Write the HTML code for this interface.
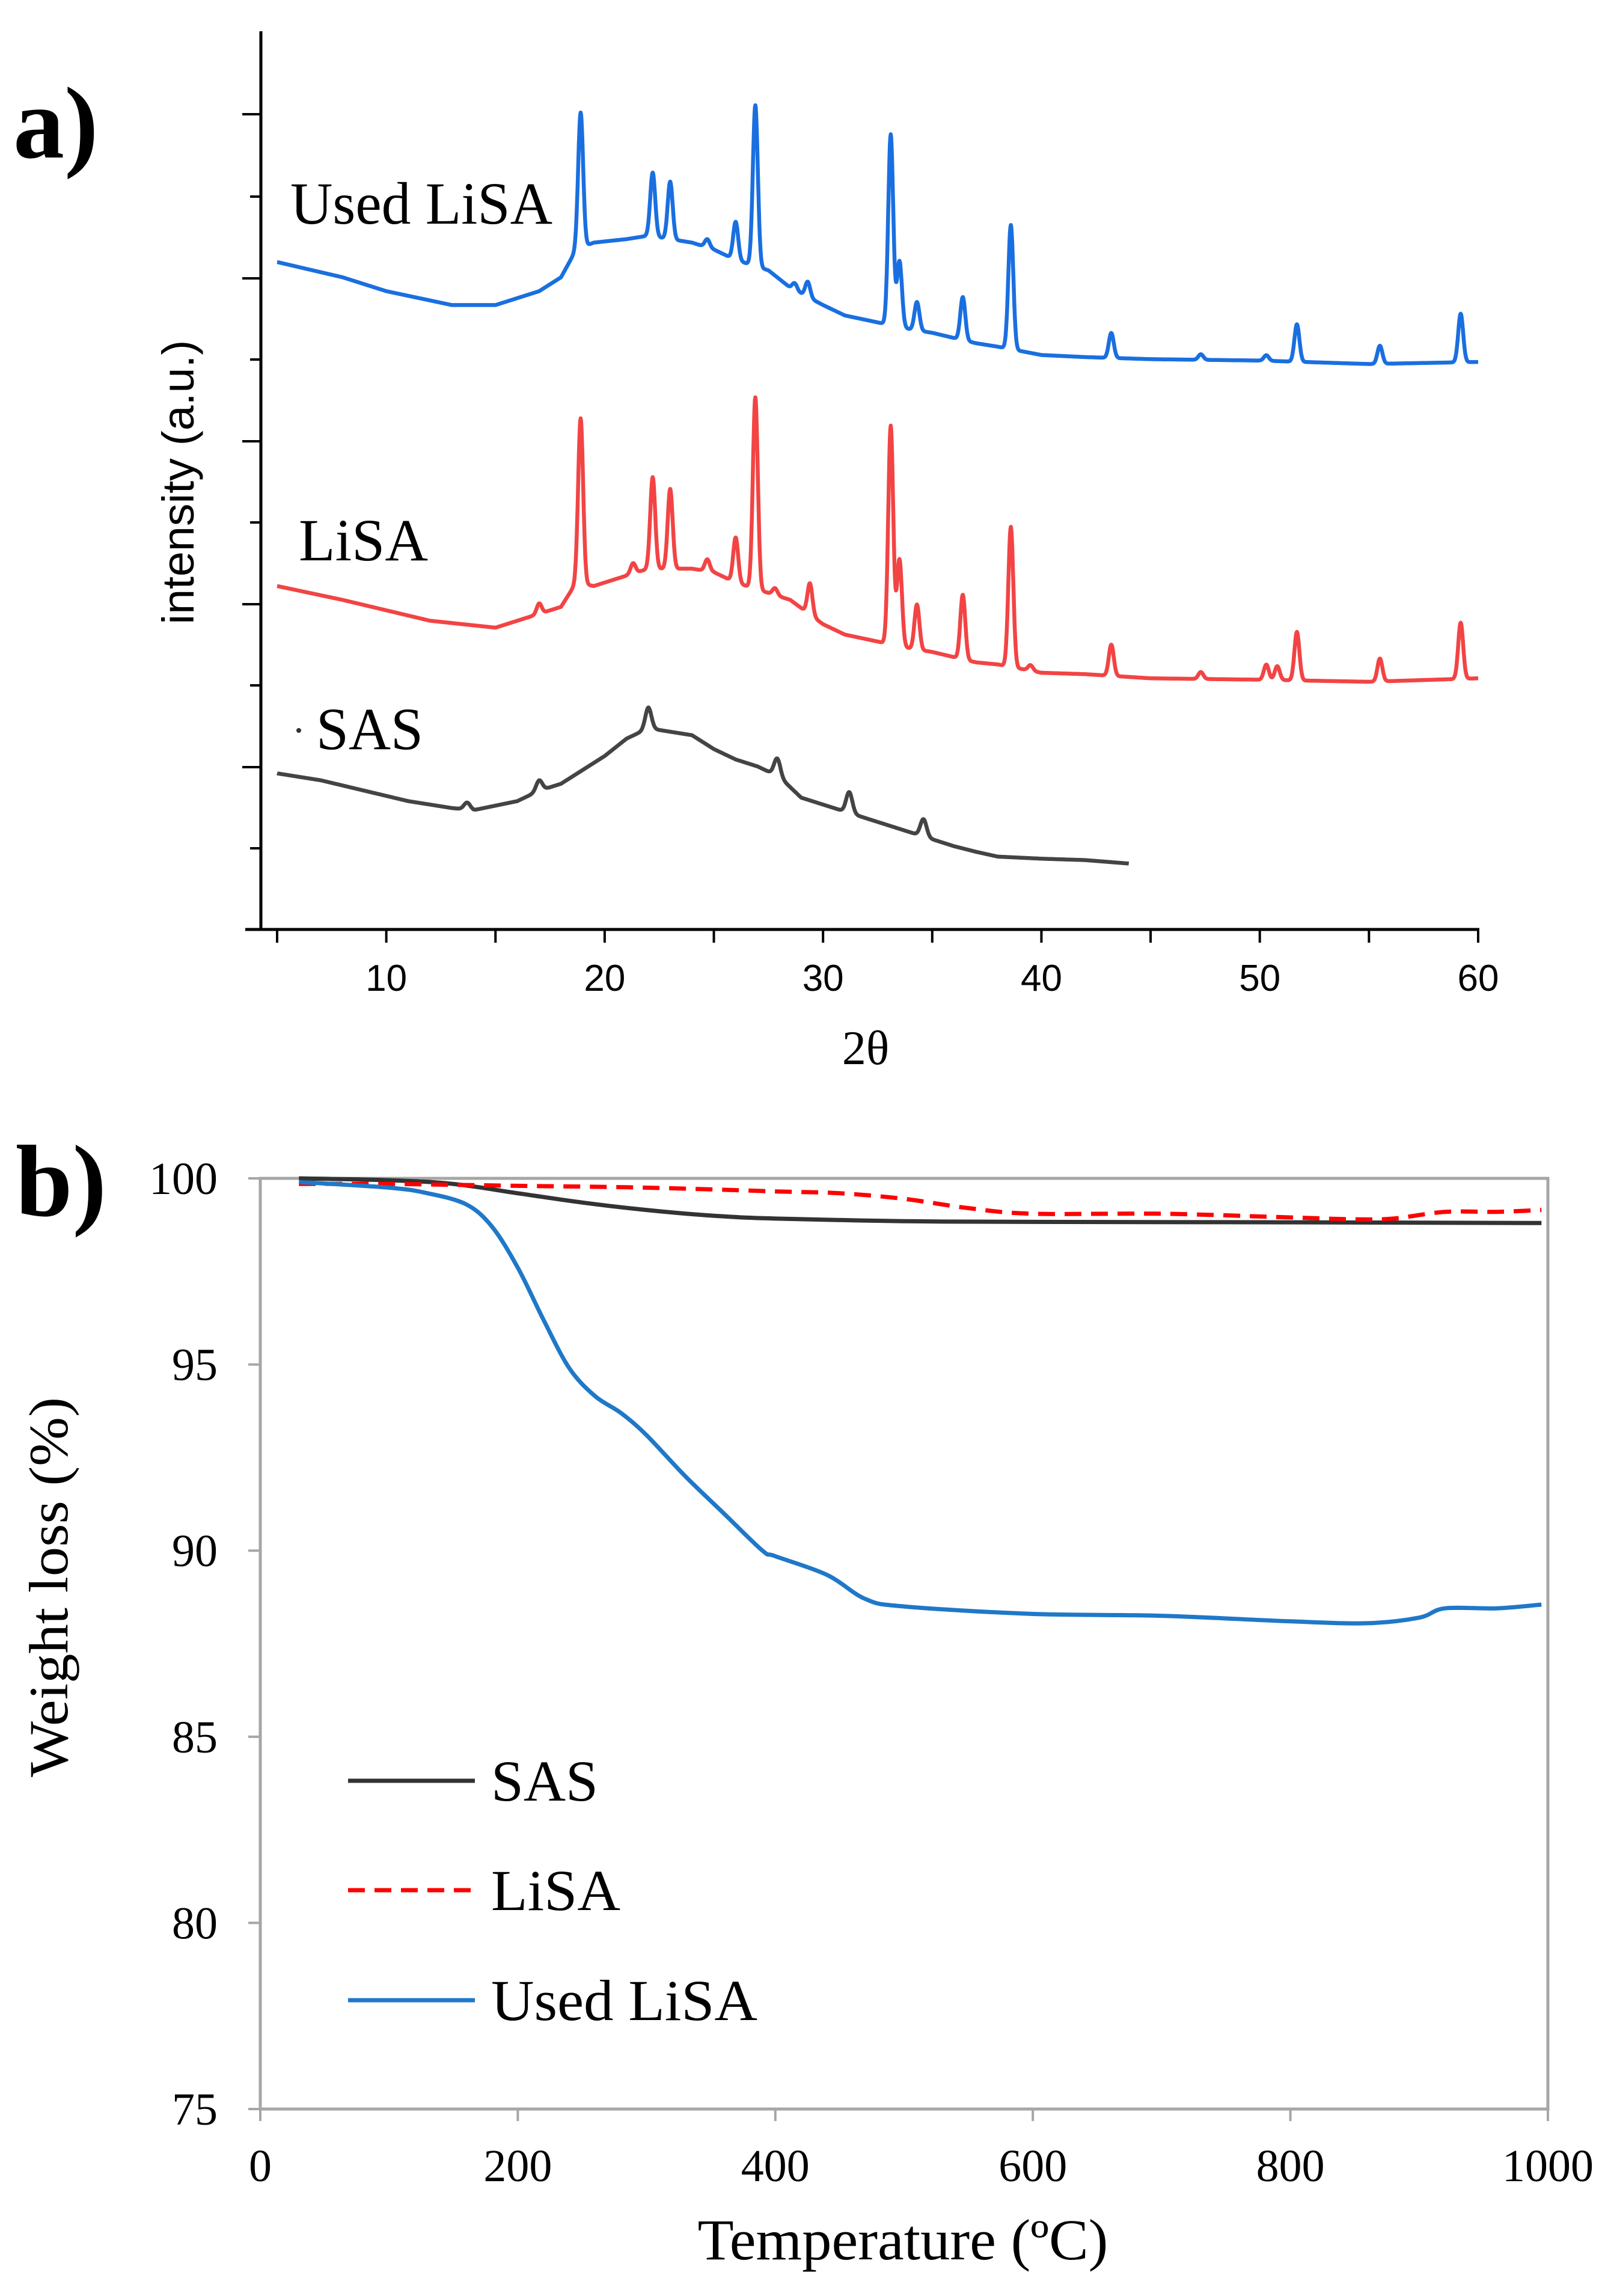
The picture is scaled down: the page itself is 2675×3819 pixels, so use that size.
<!DOCTYPE html>
<html><head><meta charset="utf-8"><style>
html,body{margin:0;padding:0;background:#fff;}
svg{display:block;}
</style></head><body>
<svg id="fig" xmlns="http://www.w3.org/2000/svg" width="2675" height="3819" viewBox="0 0 2675 3819">
<rect x="0" y="0" width="2675" height="3819" fill="#fff"/>
<g id="pa">
<text x="22" y="262" font-family="Liberation Serif, serif" font-weight="bold" font-size="170">a)</text>
<line x1="434" y1="52" x2="434" y2="1546" stroke="#000" stroke-width="5"/>
<line x1="408" y1="1546" x2="2461" y2="1546" stroke="#000" stroke-width="5"/>
<g id="xrdTicks"></g>
<text transform="translate(322,802) rotate(-90)" text-anchor="middle" font-family="Liberation Sans, sans-serif" font-size="74" textLength="473" lengthAdjust="spacingAndGlyphs">intensity (a.u.)</text>
<text x="1440" y="1770" text-anchor="middle" font-family="Liberation Serif, serif" font-size="80">2θ</text>
<g id="xrdLines"></g>
<text x="483" y="372" font-family="Liberation Serif, serif" font-size="100" textLength="436" lengthAdjust="spacingAndGlyphs">Used LiSA</text>
<text x="497" y="932" font-family="Liberation Serif, serif" font-size="100" textLength="215" lengthAdjust="spacingAndGlyphs">LiSA</text>
<circle cx="497" cy="1215" r="4" fill="#333"/>
<text x="526" y="1246" font-family="Liberation Serif, serif" font-size="100" textLength="178" lengthAdjust="spacingAndGlyphs">SAS</text>
</g>
<g id="pb">
<text x="26" y="2022" font-family="Liberation Serif, serif" font-weight="bold" font-size="170">b)</text>
<rect x="433" y="1960" width="2142" height="1548" fill="none" stroke="#a6a6a6" stroke-width="5"/>
<g id="tgaTicks"></g>
<text transform="translate(112,2640) rotate(-90)" text-anchor="middle" font-family="Liberation Serif, serif" font-size="92" textLength="632" lengthAdjust="spacingAndGlyphs">Weight loss (%)</text>
<text x="1502" y="3758" text-anchor="middle" font-family="Liberation Serif, serif" font-size="96" textLength="683" lengthAdjust="spacingAndGlyphs">Temperature (ºC)</text>
<g id="tgaLines"></g>
<g>
<line x1="579" y1="2962" x2="790" y2="2962" stroke="#333" stroke-width="7"/>
<text x="817" y="2995" font-family="Liberation Serif, serif" font-size="96" textLength="178" lengthAdjust="spacingAndGlyphs">SAS</text>
<line x1="579" y1="3144" x2="790" y2="3144" stroke="#ff0000" stroke-width="7" stroke-dasharray="28,16"/>
<text x="817" y="3177" font-family="Liberation Serif, serif" font-size="96" textLength="215" lengthAdjust="spacingAndGlyphs">LiSA</text>
<line x1="579" y1="3327" x2="790" y2="3327" stroke="#1f78c8" stroke-width="7"/>
<text x="817" y="3360" font-family="Liberation Serif, serif" font-size="96" textLength="443" lengthAdjust="spacingAndGlyphs">Used LiSA</text>
</g>
</g>
</svg>
<script>
const xrdTickLabels = [10, 20, 30, 40, 50, 60];
const usedBgAngles = [5,8,10,13,15,17,18,18.7,19.5,21,22,24,25,26,27.5,28.5,30,31,32.5,34,35,37,38,40,42,45,50,55,60];
const usedBgValues = [962,940,920,900,900,920,940,980,990,995,1000,990,980,965,950,925,900,885,875,865,860,845,840,828,825,822,820,815,818];
const usedPeakPos = [18.9,22.2,23.0,24.7,26.0,26.9,28.7,29.3,33.1,33.5,34.3,36.4,38.6,43.2,47.3,50.3,51.7,55.5,59.2];
const usedPeakH = [195,92,83,12,55,232,10,22,275,95,41,62,179,36,8,8,54,26,70];
const lisaBgAngles = [5,8,10,12,15,17,18,18.7,19.5,21,22,24,25,26,27.5,28.5,30,31,32.5,34,35,37,38,40,42,45,50,55,60];
const lisaBgValues = [495,475,460,445,435,455,465,500,495,510,520,520,515,500,485,475,440,425,415,405,400,385,382,370,368,362,360,357,362];
const lisaPeakPos = [17,18.9,21.3,22.2,23.0,24.7,26.0,26.9,27.8,29.4,33.1,33.5,34.3,36.4,38.6,39.5,43.2,47.3,50.3,50.8,51.7,55.5,59.2];
const lisaPeakH = [15,238,15,132,115,17,65,276,10,45,315,125,65,93,202,8,45,10,22,20,70,33,81];
const sasBgAngles = [5,7,9,11,13,14,16,17,18,19,20,21,22,23,24,25,26,27,28,29,30,31,32,33,34,35,36,37,38,40,42,44];
const sasBgValues = [225,215,200,185,175,172,185,200,210,230,250,275,290,285,280,260,245,235,220,190,180,170,160,150,140,130,120,112,105,102,100,95];
const sasPeakPos = [13.7,17,22,27.9,31.2,34.6];
const sasPeakH = [10,15,30,25,30,25];

function xX(a){ return 461 + (a-5)*(2459-461)/55; }
function xY(v){ return 1546 - v*1.154; }
function interp(xs, ys, x){
  if (x<=xs[0]) return ys[0];
  for (let i=1;i<xs.length;i++){ if (x<=xs[i]){ const t=(x-xs[i-1])/(xs[i]-xs[i-1]); return ys[i-1]+t*(ys[i]-ys[i-1]); } }
  return ys[ys.length-1];
}
const NS='http://www.w3.org/2000/svg';
function mk(tag, attrs, parent){ const e=document.createElementNS(NS,tag); for(const k in attrs) e.setAttribute(k,attrs[k]); parent.appendChild(e); return e; }

const xt=document.getElementById('xrdTicks');
for (let a=5;a<=60;a+=5){
  const t=mk('line',{x1:xX(a),y1:1546,x2:xX(a),y2:1568,stroke:'#000','stroke-width':4},xt);
  
  
}
xrdTickLabels.forEach(v=>{
  const t=mk('text',{x:xX(v),y:1648,'text-anchor':'middle','font-family':'Liberation Sans, sans-serif','font-size':62},xt);
  t.textContent=v;
  
  
});
const yMaj=[190,463,734,1005,1276], yMin=[327,598,869,1140,1411];
yMaj.forEach(y=>{ const t=mk('line',{x1:403,y1:y,x2:434,y2:y,stroke:'#000','stroke-width':4},xt);
  
   });
yMin.forEach(y=>{ const t=mk('line',{x1:416,y1:y,x2:434,y2:y,stroke:'#000','stroke-width':4},xt);
  
   });

function xrdPath(bgA,bgV,pp,ph,end,w){
  let d='';
  for (let a=5;a<=end+1e-9;a+=0.02){
    let v=interp(bgA,bgV,a);
    for (let i=0;i<pp.length;i++){ const z=(a-pp[i])/w; v+=ph[i]*Math.exp(-z*z); }
    d+=(d?'L':'M')+xX(a).toFixed(1)+','+xY(v).toFixed(1);
  }
  return d;
}
const xl=document.getElementById('xrdLines');
let p=mk('path',{d:xrdPath(usedBgAngles,usedBgValues,usedPeakPos,usedPeakH,60,0.16),fill:'none',stroke:'#1a6fe0','stroke-width':6.5,'stroke-linejoin':'round'},xl);


p=mk('path',{d:xrdPath(lisaBgAngles,lisaBgValues,lisaPeakPos,lisaPeakH,60,0.16),fill:'none',stroke:'#f24444','stroke-width':6.5,'stroke-linejoin':'round'},xl);


p=mk('path',{d:xrdPath(sasBgAngles,sasBgValues,sasPeakPos,sasPeakH,44,0.2),fill:'none',stroke:'#444','stroke-width':6.5,'stroke-linejoin':'round'},xl);



const tgaXTicks = [0,200,400,600,800,1000];
const tgaYTicks = [75,80,85,90,95,100];
const usedT = [30,100,130,160,180,200,220,240,260,280,300,330,360,390,400,440,470,500,600,700,800,860,900,920,960,995];
const usedW = [99.9,99.75,99.6,99.3,98.7,97.6,96.2,94.9,94.15,93.7,93.1,92.0,91.0,90.0,89.85,89.35,88.7,88.5,88.3,88.25,88.1,88.05,88.2,88.45,88.45,88.55];
const sasT = [30,100,150,200,250,300,350,400,500,600,800,995];
const sasW = [100,99.95,99.85,99.6,99.35,99.15,99.0,98.92,98.85,98.83,98.82,98.8];
const lisaT = [30,100,200,300,400,450,500,550,600,700,800,850,880,920,960,995];
const lisaW = [99.85,99.85,99.8,99.75,99.65,99.6,99.45,99.2,99.05,99.05,98.95,98.9,98.92,99.1,99.1,99.15];

function tX(t){ return 433 + t*2142/1000; }
function tY(w){ return 3508 - (w-75)*1548/25; }
const tt=document.getElementById('tgaTicks');
tgaXTicks.forEach(v=>{
  const l=mk('line',{x1:tX(v),y1:3508,x2:tX(v),y2:3528,stroke:'#a6a6a6','stroke-width':4},tt);
  
  
  const t=mk('text',{x:tX(v),y:3628,'text-anchor':'middle','font-family':'Liberation Serif, serif','font-size':76},tt);
  t.textContent=v;
  
  
});
tgaYTicks.forEach(v=>{
  const l=mk('line',{x1:413,y1:tY(v),x2:433,y2:tY(v),stroke:'#a6a6a6','stroke-width':4},tt);
  
  
  const t=mk('text',{x:362,y:tY(v)+26,'text-anchor':'end','font-family':'Liberation Serif, serif','font-size':76},tt);
  t.textContent=v;
  
  
});
function smooth(ts,ws){
  const pts=ts.map((t,i)=>[tX(t),tY(ws[i])]);
  let d='M'+pts[0][0]+','+pts[0][1];
  for(let i=0;i<pts.length-1;i++){
    const p0=pts[Math.max(0,i-1)],p1=pts[i],p2=pts[i+1],p3=pts[Math.min(pts.length-1,i+2)];
    const c1=[p1[0]+(p2[0]-p0[0])/6,p1[1]+(p2[1]-p0[1])/6];
    const c2=[p2[0]-(p3[0]-p1[0])/6,p2[1]-(p3[1]-p1[1])/6];
    d+='C'+c1[0].toFixed(1)+','+c1[1].toFixed(1)+' '+c2[0].toFixed(1)+','+c2[1].toFixed(1)+' '+p2[0].toFixed(1)+','+p2[1].toFixed(1);
  }
  return d;
}
const tl=document.getElementById('tgaLines');
p=mk('path',{d:smooth(sasT,sasW),fill:'none',stroke:'#333','stroke-width':7},tl);


p=mk('path',{d:smooth(lisaT,lisaW),fill:'none',stroke:'#ff0000','stroke-width':7,'stroke-dasharray':'28,16'},tl);


p=mk('path',{d:smooth(usedT,usedW),fill:'none',stroke:'#1f78c8','stroke-width':7},tl);


</script>
</body></html>
